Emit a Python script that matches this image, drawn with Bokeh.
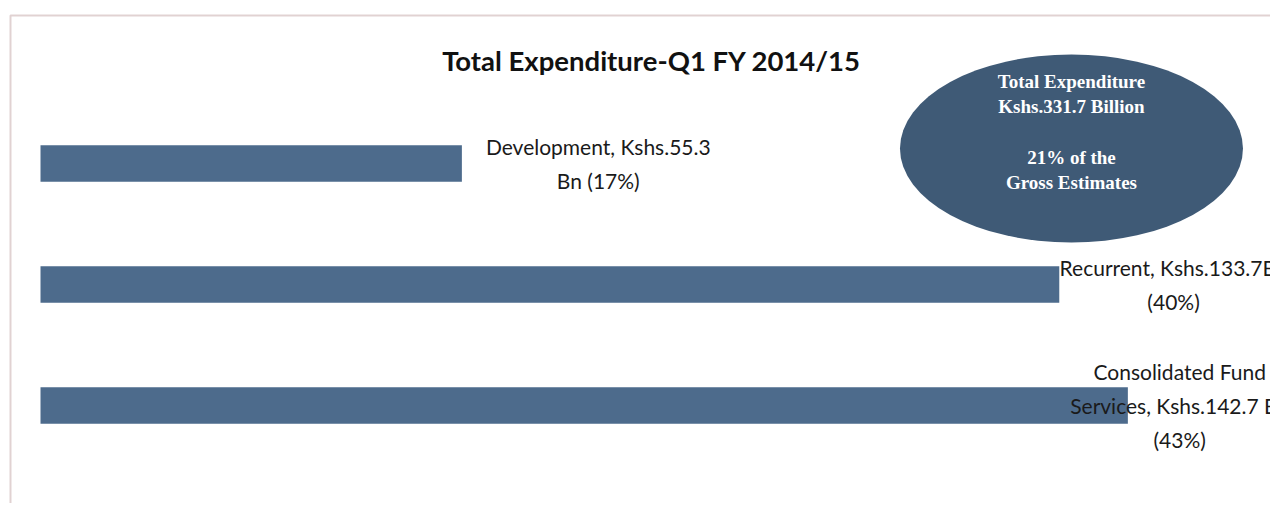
from bokeh.plotting import figure
from bokeh.models import Range1d, ColumnDataSource, Label, BoxAnnotation
from bokeh.core.properties import value
from bokeh.embed import file_html
from bokeh.resources import INLINE

# ---- data ----
categories = ["Consolidated Fund Services", "Recurrent", "Development"]
amounts_bn = [142.7, 133.7, 55.3]
shares_pct = [43, 40, 17]
bar_labels = [
    "Consolidated Fund\nServices, Kshs.142.7 Bn\n(43%)",
    "Recurrent, Kshs.133.7Bn\n(40%)",
    "Development, Kshs.55.3\nBn (17%)",
]
title_text = "Total Expenditure-Q1 FY 2014/15"
bubble_text = "Total Expenditure\nKshs.331.7 Billion\n\n21% of the\nGross Estimates"

# ---- layout ----
W, H = 1270, 503
label_offsets = [6.8, 15.0, 17.9]  # horizontal offset of data labels from bar end (data units)

positions = list(range(len(categories)))
src = ColumnDataSource(dict(
    cat=categories,
    y=positions,
    amt=amounts_bn,
    pct=shares_pct,
    lab=bar_labels,
    lx=[a + o for a, o in zip(amounts_bn, label_offsets)],
))

p = figure(width=W, height=H, output_backend="svg", toolbar_location=None,
           x_range=Range1d(-5.25, 161.42), y_range=Range1d(-0.81, 3.347),
           min_border=0, min_border_left=0, min_border_right=0,
           min_border_top=0, min_border_bottom=0)
p.axis.visible = False
p.xgrid.visible = False
p.ygrid.visible = False
p.outline_line_color = None
p.background_fill_color = "white"
p.border_fill_color = "white"

# frame border like the scanned box (screen y measured from bottom)
p.add_layout(BoxAnnotation(left=10, right=1400, top=H - 15, bottom=-100,
                           left_units="screen", right_units="screen",
                           top_units="screen", bottom_units="screen",
                           fill_color=None, line_color="#9c6a6a", line_width=2))

p.hbar(y="y", right="amt", left=0, height=0.30, source=src,
       fill_color="#4d6b8c", line_color=None)

p.text(x="lx", y="y", text="lab", source=src, text_align="center",
       text_baseline="middle", text_font=value("Lato"), text_font_size="21px",
       text_color="#1a1a1a", text_line_height=1.35)

# bubble
p.ellipse(x=[135.3], y=[2.124], width=[343], height=[188],
          width_units="screen", height_units="screen",
          fill_color="#3f5a76", line_color=None)
p.text(x=[135.3], y=[2.26], text=[bubble_text], text_align="center",
       text_baseline="middle", text_font=value("Liberation Serif"),
       text_font_style="bold", text_font_size="19px", text_color="white",
       text_line_height=1.2)

p.add_layout(Label(x=80.2, y=2.851, text=title_text, text_align="center",
                   text_baseline="middle", text_font="Lato",
                   text_font_style="bold", text_font_size="27.5px",
                   text_color="#111111"))

open("out.html", "w").write(file_html(p, INLINE))
